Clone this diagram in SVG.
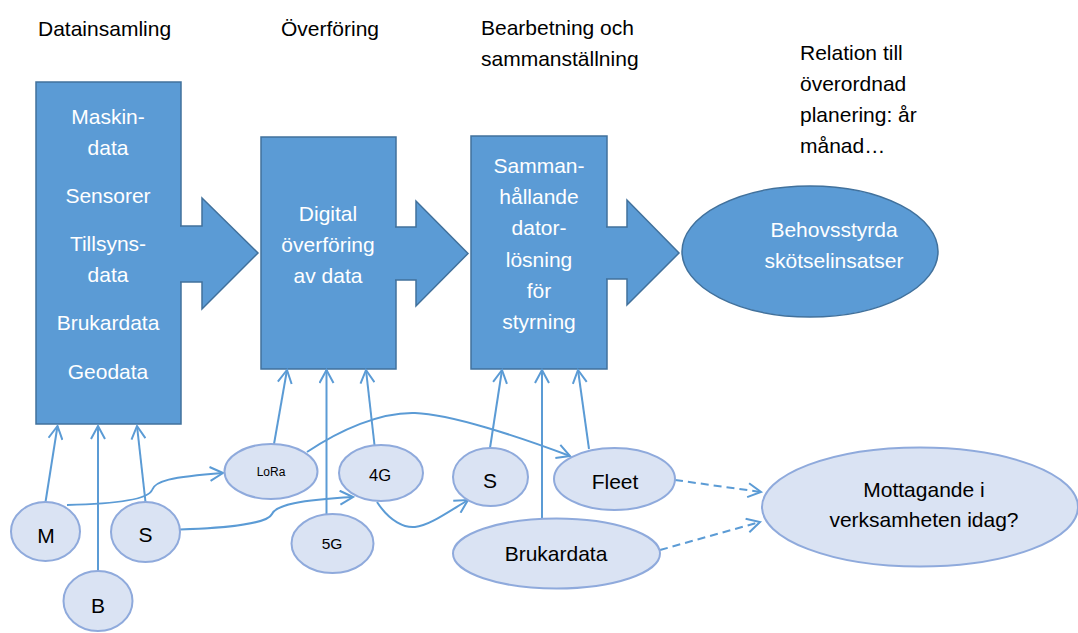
<svg xmlns="http://www.w3.org/2000/svg" width="1078" height="633" viewBox="0 0 1078 633">
<style>
text{font-family:"Liberation Sans",Arial,sans-serif;font-size:21px;fill:#000}
.w{fill:#fff;text-anchor:middle}
.c{text-anchor:middle}
.box{fill:#5b9bd5;stroke:#41719c;stroke-width:1.5}
.blk{fill:#5b9bd5;stroke:#41719c;stroke-width:1.5;stroke-linejoin:miter}
.sm{fill:#dae3f3;stroke:#8faadc;stroke-width:2}
.ln{fill:none;stroke:#5b9bd5;stroke-width:2;marker-end:url(#a)}
.ds{stroke-dasharray:8 5}
</style>
<defs>
<marker id="a" viewBox="0 0 16 16" refX="14" refY="8" markerWidth="16" markerHeight="16" markerUnits="userSpaceOnUse" orient="auto">
<path d="M1,1 L14,8 L1,15" fill="none" stroke="#5b9bd5" stroke-width="2" stroke-dasharray="none"/>
</marker>
</defs>
<rect width="1078" height="633" fill="#fff"/>
<g id="headers">
<text x="38" y="36">Datainsamling</text>
<text x="281" y="36">Överföring</text>
<text x="481" y="35">Bearbetning och</text>
<text x="481" y="66">sammanställning</text>
<text x="800" y="60">Relation till</text>
<text x="800" y="91">överordnad</text>
<text x="800" y="122">planering: år</text>
<text x="800" y="153">månad…</text>
</g>
<g id="datainsamling">
<rect class="box" x="36" y="82" width="145" height="342"/>
<path class="blk" d="M180,226 L202,226 L202,198 L258,253 L202,309 L202,282 L180,282"/>
<text class="w" x="108" y="124">Maskin-</text>
<text class="w" x="108" y="155">data</text>
<text class="w" x="108" y="203">Sensorer</text>
<text class="w" x="108" y="251">Tillsyns-</text>
<text class="w" x="108" y="282">data</text>
<text class="w" x="108" y="330">Brukardata</text>
<text class="w" x="108" y="379">Geodata</text>
</g>
<g id="overforing">
<rect class="box" x="261" y="137" width="135" height="232"/>
<path class="blk" d="M395,227 L416,227 L416,201 L468,253.5 L416,306 L416,280 L395,280"/>
<text class="w" x="328" y="221">Digital</text>
<text class="w" x="328" y="252">överföring</text>
<text class="w" x="328" y="283">av data</text>
</g>
<g id="bearbetning">
<rect class="box" x="471" y="136" width="136" height="233"/>
<path class="blk" d="M606,227 L627,227 L627,200 L679,253 L627,305 L627,279 L606,279"/>
<text class="w" x="539" y="173">Samman-</text>
<text class="w" x="539" y="204">hållande</text>
<text class="w" x="539" y="235">dator-</text>
<text class="w" x="539" y="267">lösning</text>
<text class="w" x="539" y="298">för</text>
<text class="w" x="539" y="329">styrning</text>
</g>
<g id="behovsstyrda">
<ellipse class="box" cx="810" cy="251.5" rx="128" ry="65.5"/>
<text class="w" x="834" y="237">Behovsstyrda</text>
<text class="w" x="834" y="268">skötselinsatser</text>
</g>
<g id="connectors">
<path class="ln" d="M45.5,502 L57.5,426"/>
<path class="ln" d="M98,571 L98,426"/>
<path class="ln" d="M145.5,502 L137,426"/>
<path class="ln" d="M67,505 C110,504 148,500 152,490 C155,481 170,477 223,473"/>
<path class="ln" d="M180,529.5 C230,528 268,523 272,514 C276,505 300,500 353,497"/>
<path class="ln" d="M274,444 L287,370"/>
<path class="ln" d="M326.5,514 L326.5,370"/>
<path class="ln" d="M374.5,445 L366,370"/>
<path class="ln" d="M307,452 C340,430 380,412 415,413 C450,414 520,437 570,456"/>
<path class="ln" d="M377,502 C390,522 405,528 415,527 C428,526 445,514 468,500"/>
<path class="ln" d="M490,448 L502,370"/>
<path class="ln" d="M542,518 L542,370"/>
<path class="ln" d="M589,449 L578,370"/>
<path class="ln ds" d="M675,480 L761,492"/>
<path class="ln ds" d="M660,550 L760,522"/>
</g>
<g id="node-m"><ellipse class="sm" cx="45.5" cy="531.5" rx="34.5" ry="29.5"/><text class="c" x="46" y="543">M</text></g>
<g id="node-b"><ellipse class="sm" cx="98" cy="601" rx="34.5" ry="30"/><text class="c" x="98" y="613">B</text></g>
<g id="node-s1"><ellipse class="sm" cx="145.5" cy="532" rx="34.5" ry="30"/><text class="c" x="145.5" y="542">S</text></g>
<g id="node-lora"><ellipse class="sm" cx="271" cy="471.5" rx="46.5" ry="27.5"/><text class="c" x="271" y="476" style="font-size:12px">LoRa</text></g>
<g id="node-4g"><ellipse class="sm" cx="381" cy="473" rx="42" ry="28"/><text class="c" x="380" y="481" style="font-size:16.5px">4G</text></g>
<g id="node-5g"><ellipse class="sm" cx="332.5" cy="543.5" rx="41" ry="29.5"/><text class="c" x="332" y="549" style="font-size:15.5px">5G</text></g>
<g id="node-s2"><ellipse class="sm" cx="490.5" cy="477" rx="37.5" ry="29"/><text class="c" x="490" y="488">S</text></g>
<g id="node-fleet"><ellipse class="sm" cx="614.5" cy="479" rx="60.5" ry="31"/><text class="c" x="615" y="489">Fleet</text></g>
<g id="node-brukardata"><ellipse class="sm" cx="556.5" cy="553.5" rx="103.5" ry="35"/><text class="c" x="556" y="561">Brukardata</text></g>
<g id="node-mottagande"><ellipse class="sm" cx="920" cy="507" rx="158" ry="59.5"/><text class="c" x="924" y="497">Mottagande i</text><text class="c" x="924" y="527">verksamheten idag?</text></g>
</svg>
